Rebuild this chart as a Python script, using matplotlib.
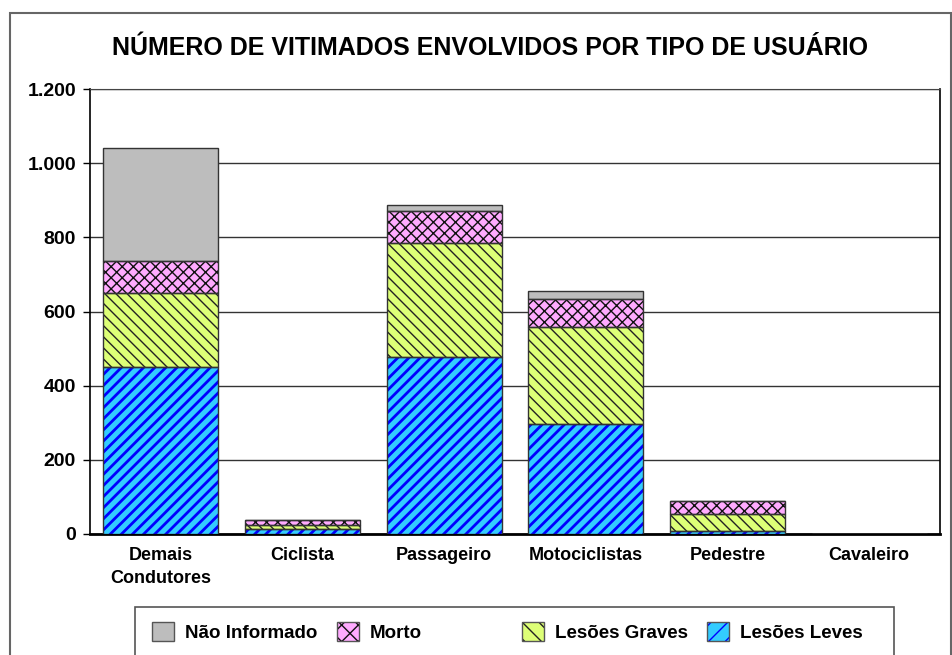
import matplotlib
matplotlib.use("Agg")
import matplotlib.pyplot as plt
from matplotlib.patches import Rectangle, Patch
import numpy as np

# data
categorias = ["Demais\nCondutores", "Ciclista", "Passageiro", "Motociclistas", "Pedestre", "Cavaleiro"]
leves = [450, 13, 477, 297, 8, 0]
graves = [200, 11, 308, 261, 46, 0]
morto = [86, 14, 86, 76, 35, 0]
nao_informado = [305, 1, 16, 21, 0, 0]
yticks = [0, 200, 400, 600, 800, 1000, 1200]
ytick_labels = ["0", "200", "400", "600", "800", "1.000", "1.200"]

plt.rcParams['font.family'] = ['Liberation Sans', 'DejaVu Sans']

fig = plt.figure(figsize=(9.52, 6.55), dpi=100)
ax = fig.add_axes([90/952, 1-534/655, 850/952, 445/655])

x = np.arange(len(categorias))
w = 0.81

series = [
    (leves, "Lesões Leves", "#33CCFF", "///", "#0000FF", 2.0),
    (graves, "Lesões Graves", "#DDFF77", "\\\\\\", "#222222", 1.0),
    (morto, "Morto", "#FFAAFF", "xxx", "#111111", 1.0),
    (nao_informado, "Não Informado", "#BDBDBD", "", "#888888", 1.0),
]

handles = {}
base = np.zeros(len(categorias))
for vals, nome, cor, hatch, hcor, hlw in series:
    vals = np.array(vals, dtype=float)
    plt.rcParams['hatch.linewidth'] = hlw
    ax.bar(x, vals, w, bottom=base, color=cor, hatch=hatch, edgecolor=hcor, linewidth=0, zorder=3)
    ax.bar(x, vals, w, bottom=base, facecolor="none", edgecolor="#333333", linewidth=1.0, zorder=4)
    hp = Patch(facecolor=cor, hatch=hatch[:2] if hatch else "", edgecolor=hcor, linewidth=0)
    ep = Patch(facecolor="none", edgecolor="#555555", linewidth=1.0)
    handles[nome] = (hp, ep)
    base += vals

ax.set_xlim(-0.5, len(categorias) - 0.5)
ax.set_ylim(0, 1200)
ax.set_yticks(yticks)
ax.set_yticklabels(ytick_labels, fontsize=14, fontweight="bold")
ax.set_xticks(x)
ax.set_xticklabels(categorias, fontsize=13, fontweight="bold", linespacing=1.5)
ax.tick_params(axis="x", length=0, pad=9)
ax.tick_params(axis="y", length=5, width=1, pad=5, direction="out")
ax.yaxis.grid(True, color="#333333", linewidth=1.0, zorder=0)
ax.set_axisbelow(True)
for s in ["left", "right"]:
    ax.spines[s].set_color("black")
    ax.spines[s].set_linewidth(1.2)
ax.spines["bottom"].set_linewidth(2)
ax.spines["top"].set_color("#444444")

fig.text(490/952, 1-48/655, "NÚMERO DE VITIMADOS ENVOLVIDOS POR TIPO DE USUÁRIO",
         ha="center", va="center", fontsize=18, fontweight="bold")

# legend: one entry per evenly spaced slot inside a box
ordem = ["Não Informado", "Morto", "Lesões Graves", "Lesões Leves"]
for i, nome in enumerate(ordem):
    fig.legend([handles[nome]], [nome], loc="center left",
               bbox_to_anchor=((152 + 185*i)/952, 1-632/655),
               frameon=False, borderpad=0, borderaxespad=0,
               prop={"size": 13.5, "weight": "bold"}, handlelength=1.15, handleheight=1.15,
               handletextpad=0.6)
fig.patches.append(Rectangle((135/952, -0.05), (894-135)/952, 0.05 + 1 - 607/655,
                             transform=fig.transFigure, fill=False,
                             edgecolor="#555555", linewidth=1.2))

# outer chart border
fig.patches.append(Rectangle((10/952, -0.05), 941/952, 1.05 - 13/655, transform=fig.transFigure,
                             fill=False, edgecolor="#666666", linewidth=1.5))

fig.savefig("out.png", dpi=100)
